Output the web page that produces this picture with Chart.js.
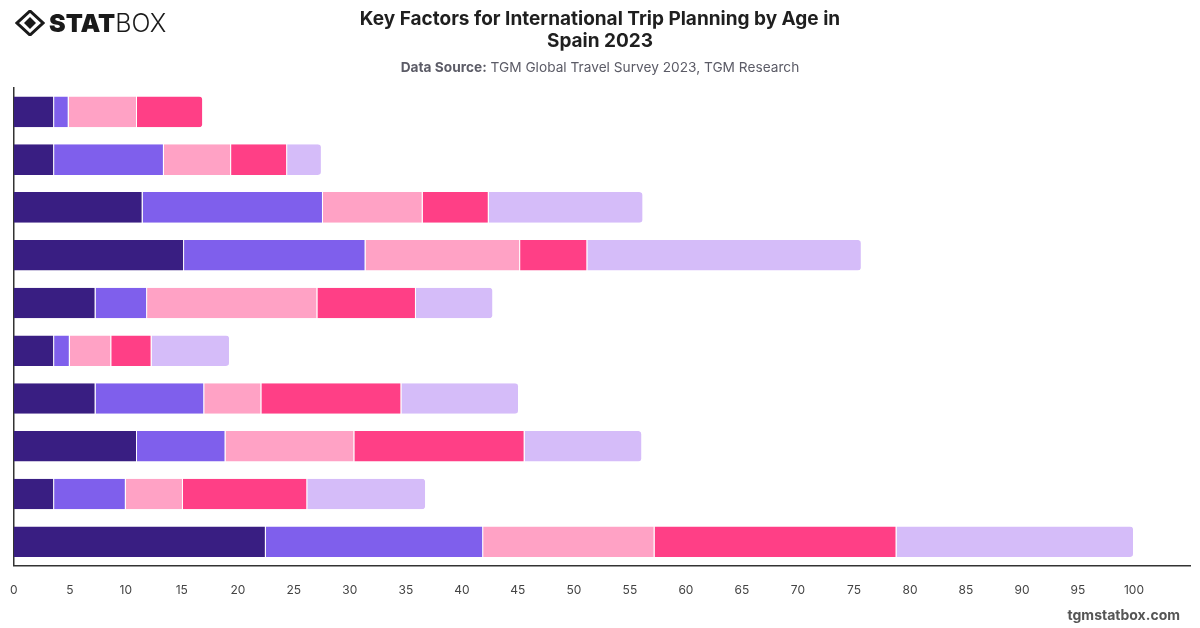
<!DOCTYPE html>
<html>
<head>
<meta charset="utf-8">
<script src="https://cdn.jsdelivr.net/npm/chart.js@4"></script>
<style>
  html, body { margin: 0; padding: 0; background: #fff; }
  body { width: 1200px; height: 628px; position: relative; overflow: hidden; font-family: Inter, "Noto Sans", sans-serif; }
  #logo { position: absolute; left: 15px; top: 8px; display: flex; align-items: center; color: #1a1a1a; }
  #logo .stat { font-weight: 900; font-size: 25px; letter-spacing: 0px; margin-left: 4px; }
  #logo .box { font-weight: 300; font-size: 25px; }
  #title { position: absolute; left: 0; width: 1200px; top: 8px; text-align: center; font-weight: 700; font-size: 19px; line-height: 22px; color: #1f1f1f; }
  #subtitle { position: absolute; left: 0; width: 1200px; top: 59px; text-align: center; font-size: 13.7px; color: #5b5b66; }
  #subtitle b { font-weight: 700; }
  #footer { position: absolute; right: 20px; top: 606px; font-size: 14px; font-weight: 700; color: #555; }
  #wrap { position: absolute; left: 0; top: 0; width: 1200px; height: 628px; }
</style>
</head>
<body>
<div id="wrap"><canvas id="chart"></canvas></div>
<div id="logo">
  <svg width="30" height="26" viewBox="0 0 30 26">
    <polygon points="15,1 28,13 15,25 2,13" fill="none" stroke="#1a1a1a" stroke-width="3"/>
    <polygon points="15,7 21,13 15,19 9,13" fill="#1a1a1a"/>
  </svg>
  <span class="stat">STAT</span><span class="box">BOX</span>
</div>
<div id="title">Key Factors for International Trip Planning by Age in<br>Spain 2023</div>
<div id="subtitle"><b>Data Source:</b> TGM Global Travel Survey 2023, TGM Research</div>
<div id="footer">tgmstatbox.com</div>
<script>
// factors (y categories are not labelled in the picture)
const factors = ["Factor 1", "Factor 2", "Factor 3", "Factor 4", "Factor 5",
                 "Factor 6", "Factor 7", "Factor 8", "Factor 9", "Factor 10"];

const ageGroups = ["18-24", "25-34", "35-44", "45-54", "55+"];

const age1 = [3.6, 3.6, 11.5, 15.2, 7.3, 3.6, 7.3, 11.0, 3.6, 22.5];
const age2 = [1.3, 9.8, 16.1, 16.2, 4.6, 1.4, 9.7, 7.9, 6.4, 19.4];
const age3 = [6.1, 6.0, 8.9, 13.8, 15.2, 3.7, 5.1, 11.5, 5.1, 15.3];
const age4 = [5.9, 5.0, 5.9, 6.0, 8.8, 3.6, 12.5, 15.2, 11.1, 21.6];
const age5 = [0, 3.1, 13.8, 24.5, 6.9, 7.0, 10.5, 10.5, 10.6, 21.2];

const colors = ["#391e82", "#7f5fec", "#ffa2c5", "#ff3f86", "#d5bcf9"];

const series = [age1, age2, age3, age4, age5];

// round only the last non-zero segment of each bar
function lastIndex(row) {
  let last = 0;
  series.forEach((s, i) => { if (s[row] > 0) last = i; });
  return last;
}

new Chart(document.getElementById("chart"), {
  type: "bar",
  data: {
    labels: factors,
    datasets: series.map((data, i) => ({
      label: ageGroups[i],
      data,
      backgroundColor: colors[i],
      borderColor: "#ffffff",
      borderWidth: { top: 0, bottom: 0, left: 0, right: 1 },
      borderRadius: (ctx) => lastIndex(ctx.dataIndex) === i ? { topRight: 4, bottomRight: 4 } : 0,
      categoryPercentage: 0.8,
      barPercentage: 0.8,
    })),
  },
  options: {
    indexAxis: "y",
    responsive: true,
    maintainAspectRatio: false,
    animation: false,
    layout: { padding: { top: 88, left: 0, right: 10, bottom: 20 } },
    plugins: {
      legend: { display: false },
      tooltip: { enabled: true },
    },
    scales: {
      x: {
        stacked: true,
        min: 0,
        max: 105,
        grid: { display: false },
        border: { display: true, color: "#333", width: 1.5 },
        ticks: {
          stepSize: 5,
          color: "#444",
          padding: 10,
          font: { family: "Inter", size: 12 },
          callback: (v) => (v <= 100 ? v : ""),
        },
      },
      y: {
        stacked: true,
        grid: { display: false },
        border: { display: true, color: "#333", width: 1.5 },
        ticks: { display: false },
      },
    },
  },
});
</script>
</body>
</html>
